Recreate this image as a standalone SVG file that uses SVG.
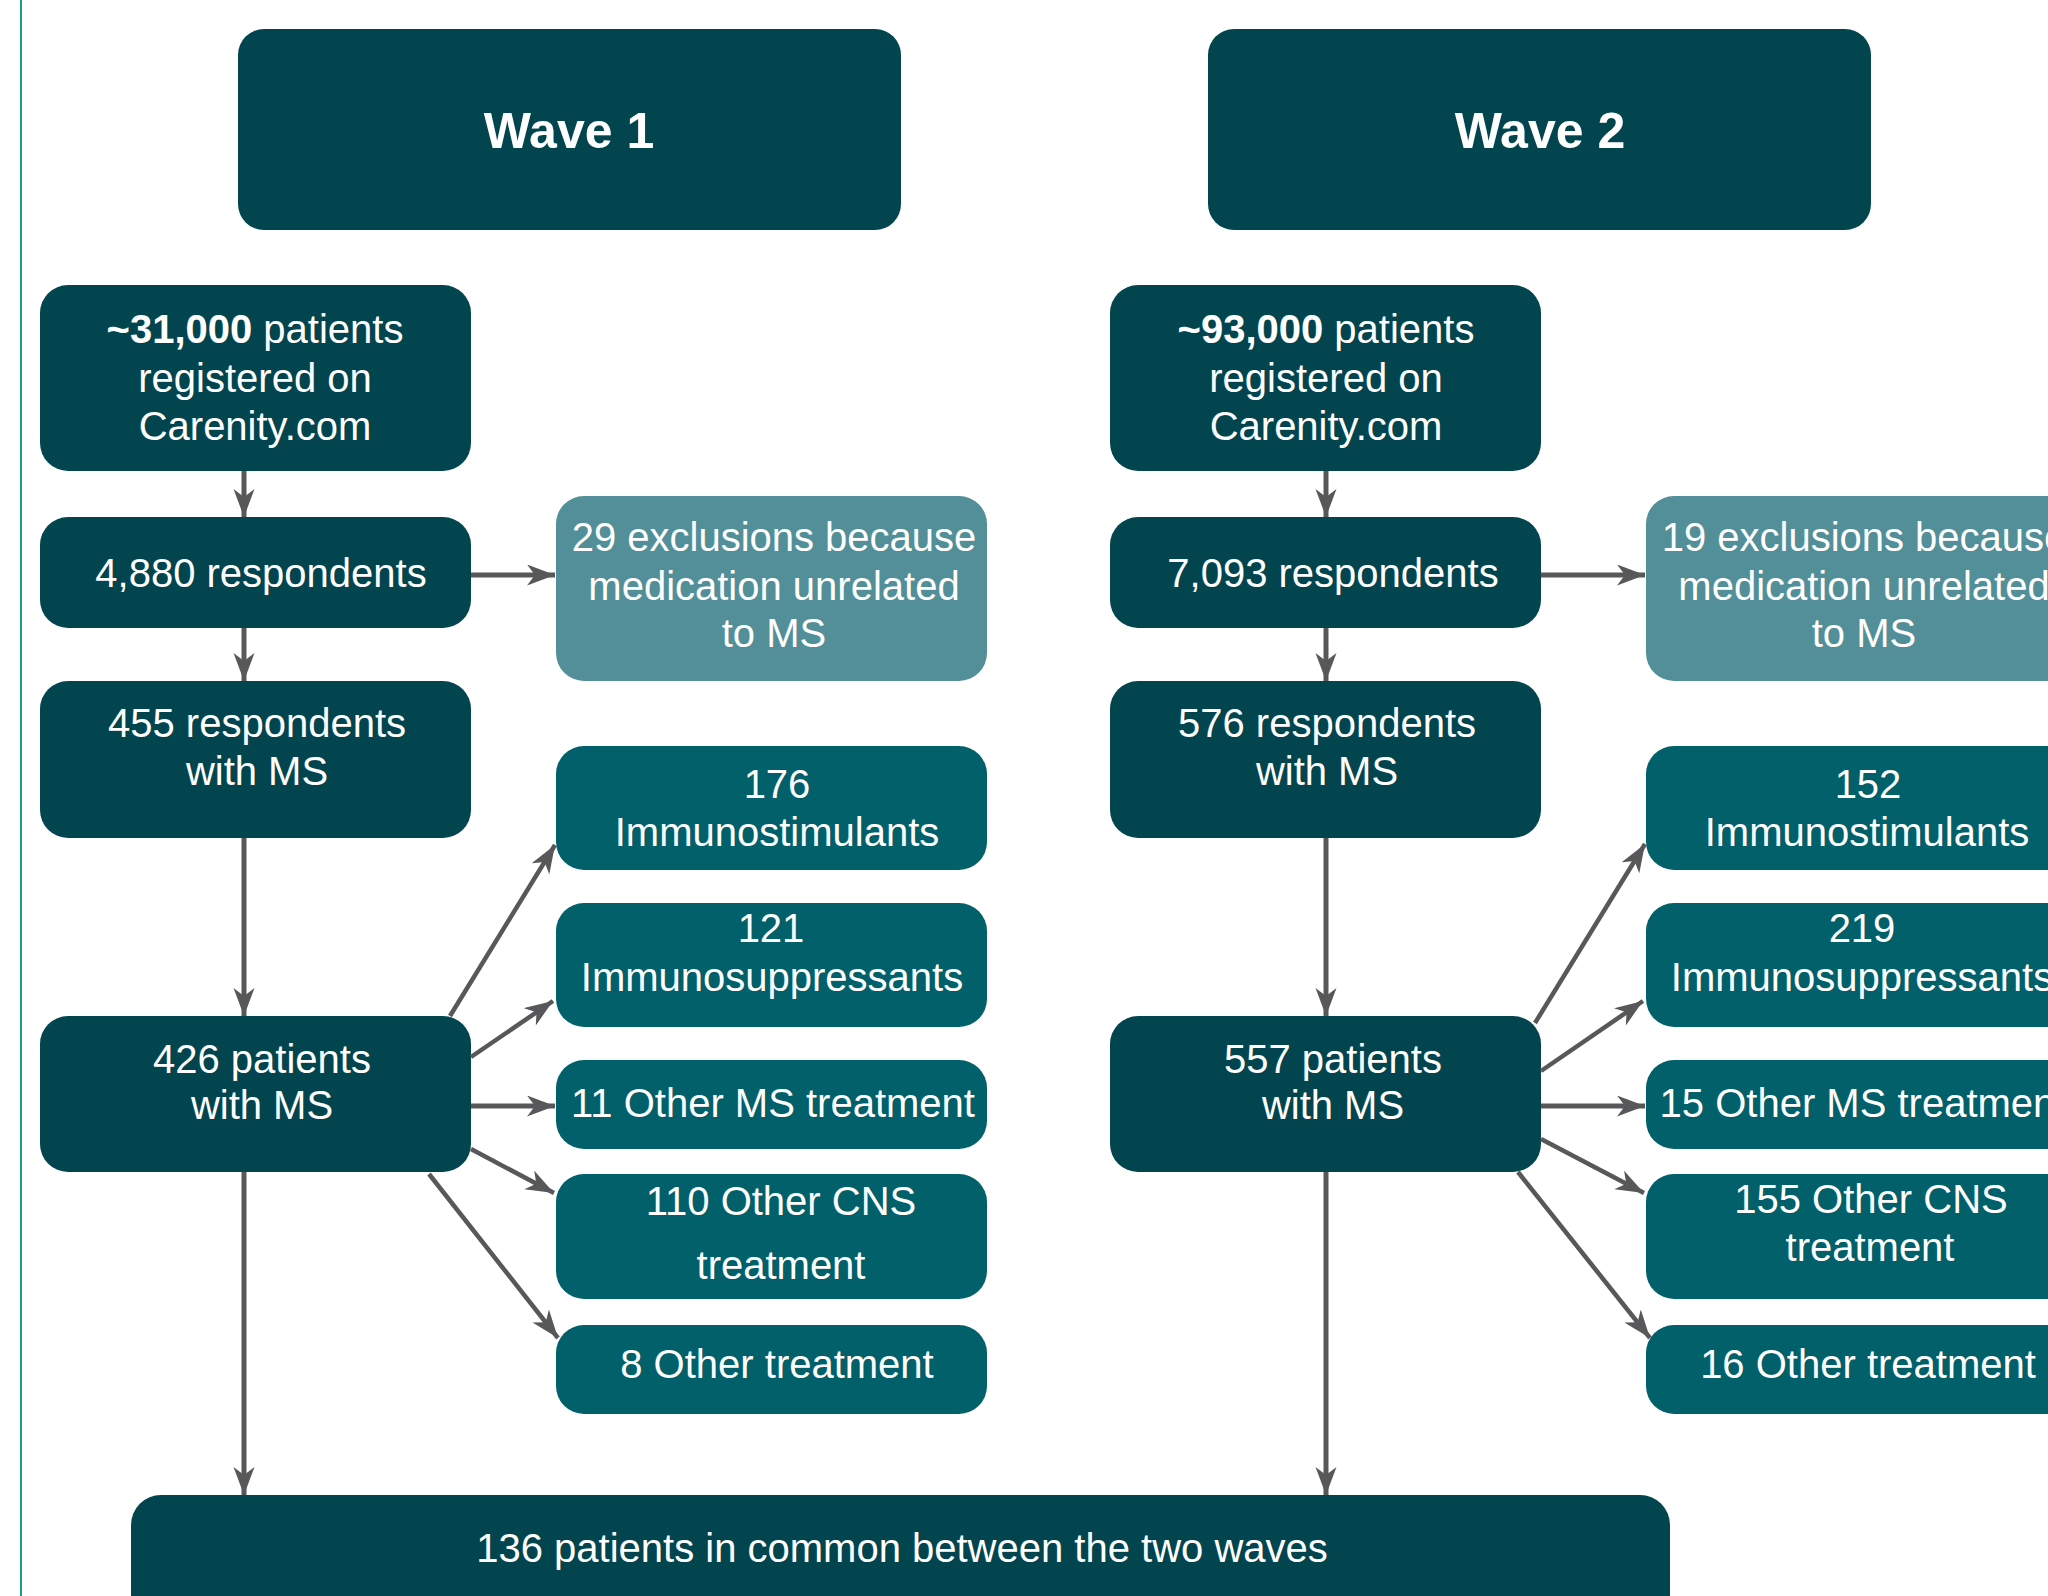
<svg xmlns="http://www.w3.org/2000/svg" width="2048" height="1596" viewBox="0 0 2048 1596">
<defs>
<style>
.dk{fill:#02454f}
.md{fill:#02606a}
.lt{fill:#528f98}
text{font-family:"Liberation Sans",Arial,sans-serif;fill:#ffffff;text-anchor:middle;font-size:40px}
.wt{font-size:50px;font-weight:bold}
.b{font-weight:bold}
.cn line{stroke:#58585a;stroke-width:5;marker-end:url(#ah)}
.cn line.t{stroke-width:4.5}
</style>
<marker id="ah" markerUnits="userSpaceOnUse" markerWidth="30" markerHeight="22" refX="28" refY="10.5" orient="auto" viewBox="0 0 30 22">
<path d="M0,0 L28,10.5 L0,21 L8,10.5 Z" fill="#58585a"/>
</marker>
</defs>
<rect width="2048" height="1596" fill="#ffffff"/>
<line x1="21" y1="0" x2="21" y2="1596" stroke="#1a9e8c" stroke-width="2"/>

<g id="wave1"><rect class="dk" x="238" y="29" width="663" height="201" rx="26"/><text class="wt" x="569" y="148">Wave 1</text></g>
<g id="wave2"><rect class="dk" x="1208" y="29" width="663" height="201" rx="26"/><text class="wt" x="1540" y="148">Wave 2</text></g>

<g id="w1-registered"><rect class="dk" x="40" y="285" width="431" height="186" rx="28"/>
<text x="255" y="343"><tspan class="b">~31,000</tspan> patients</text><text x="255" y="392">registered on</text><text x="255" y="440">Carenity.com</text></g>
<g id="w1-respondents"><rect class="dk" x="40" y="517" width="431" height="111" rx="28"/><text x="261" y="587">4,880 respondents</text></g>
<g id="w1-exclusions"><rect class="lt" x="556" y="496" width="431" height="185" rx="28"/>
<text x="774" y="551">29 exclusions because</text><text x="774" y="600">medication unrelated</text><text x="774" y="647">to MS</text></g>
<g id="w1-respms"><rect class="dk" x="40" y="681" width="431" height="157" rx="28"/><text x="257" y="737">455 respondents</text><text x="257" y="785">with MS</text></g>
<g id="w1-patms"><rect class="dk" x="40" y="1016" width="431" height="156" rx="28"/><text x="262" y="1073">426 patients</text><text x="262" y="1119">with MS</text></g>
<g id="w1-stim"><rect class="md" x="556" y="746" width="431" height="124" rx="28"/><text x="777" y="798">176</text><text x="777" y="846">Immunostimulants</text></g>
<g id="w1-supp"><rect class="md" x="556" y="903" width="431" height="124" rx="28"/><text x="771" y="942">121</text><text x="772" y="991">Immunosuppressants</text></g>
<g id="w1-otherms"><rect class="md" x="556" y="1060" width="431" height="89" rx="28"/><text x="773" y="1117">11 Other MS treatment</text></g>
<g id="w1-cns"><rect class="md" x="556" y="1174" width="431" height="125" rx="28"/><text x="781" y="1215">110 Other CNS</text><text x="781" y="1279">treatment</text></g>
<g id="w1-other"><rect class="md" x="556" y="1325" width="431" height="89" rx="28"/><text x="777" y="1378">8 Other treatment</text></g>

<g id="w2-registered"><rect class="dk" x="1110" y="285" width="431" height="186" rx="28"/>
<text x="1326" y="343"><tspan class="b">~93,000</tspan> patients</text><text x="1326" y="392">registered on</text><text x="1326" y="440">Carenity.com</text></g>
<g id="w2-respondents"><rect class="dk" x="1110" y="517" width="431" height="111" rx="28"/><text x="1333" y="587">7,093 respondents</text></g>
<g id="w2-exclusions"><rect class="lt" x="1646" y="496" width="431" height="185" rx="28"/>
<text x="1864" y="551">19 exclusions because</text><text x="1864" y="600">medication unrelated</text><text x="1864" y="647">to MS</text></g>
<g id="w2-respms"><rect class="dk" x="1110" y="681" width="431" height="157" rx="28"/><text x="1327" y="737">576 respondents</text><text x="1327" y="785">with MS</text></g>
<g id="w2-patms"><rect class="dk" x="1110" y="1016" width="431" height="156" rx="28"/><text x="1333" y="1073">557 patients</text><text x="1333" y="1119">with MS</text></g>
<g id="w2-stim"><rect class="md" x="1646" y="746" width="431" height="124" rx="28"/><text x="1868" y="798">152</text><text x="1867" y="846">Immunostimulants</text></g>
<g id="w2-supp"><rect class="md" x="1646" y="903" width="431" height="124" rx="28"/><text x="1862" y="942">219</text><text x="1862" y="991">Immunosuppressants</text></g>
<g id="w2-otherms"><rect class="md" x="1646" y="1060" width="431" height="89" rx="28"/><text x="1863" y="1117">15 Other MS treatment</text></g>
<g id="w2-cns"><rect class="md" x="1646" y="1174" width="431" height="125" rx="28"/><text x="1871" y="1213">155 Other CNS</text><text x="1870" y="1261">treatment</text></g>
<g id="w2-other"><rect class="md" x="1646" y="1325" width="431" height="89" rx="28"/><text x="1868" y="1378">16 Other treatment</text></g>

<g id="common"><rect class="dk" x="131" y="1495" width="1539" height="140" rx="30"/><text x="902" y="1562">136 patients in common between the two waves</text></g>

<g class="cn" id="connectors">
<line x1="244" y1="471" x2="244" y2="517"/>
<line x1="244" y1="628" x2="244" y2="681"/>
<line x1="471" y1="575" x2="555" y2="575"/>
<line x1="244" y1="838" x2="244" y2="1016"/>
<line x1="244" y1="1172" x2="244" y2="1495"/>
<line class="t" x1="450" y1="1016" x2="555" y2="845"/>
<line class="t" x1="471" y1="1057" x2="553" y2="1001"/>
<line x1="471" y1="1106" x2="555" y2="1106"/>
<line class="t" x1="471" y1="1149" x2="554" y2="1193"/>
<line class="t" x1="429" y1="1174" x2="558" y2="1338"/>
<line x1="1326" y1="471" x2="1326" y2="517"/>
<line x1="1326" y1="628" x2="1326" y2="681"/>
<line x1="1541" y1="575" x2="1645" y2="575"/>
<line x1="1326" y1="838" x2="1326" y2="1016"/>
<line x1="1326" y1="1172" x2="1326" y2="1495"/>
<line class="t" x1="1535" y1="1023" x2="1645" y2="844"/>
<line class="t" x1="1541" y1="1071" x2="1643" y2="1001"/>
<line x1="1541" y1="1106" x2="1645" y2="1106"/>
<line class="t" x1="1541" y1="1139" x2="1644" y2="1193"/>
<line class="t" x1="1518" y1="1172" x2="1650" y2="1338"/>
</g>
</svg>
